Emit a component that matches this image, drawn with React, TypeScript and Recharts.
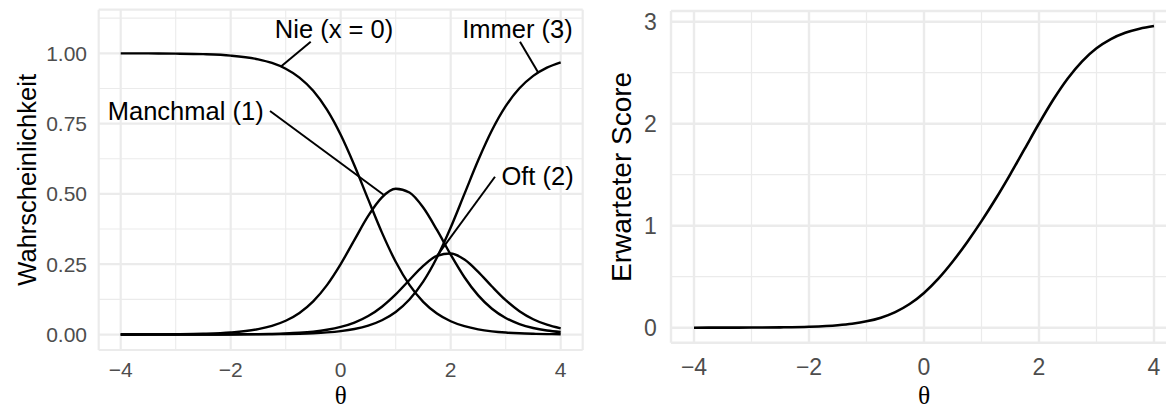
import React from 'react';
import { LineChart, Line, XAxis, YAxis, CartesianGrid, ReferenceLine, ReferenceDot } from 'recharts';

// θ grid
const theta = [-4, -3.5, -3, -2.5, -2, -1.5, -1.25, -1, -0.75, -0.5, -0.25, 0, 0.25, 0.5, 0.75, 1, 1.25, 1.5, 1.75, 2, 2.25, 2.5, 2.75, 3, 3.25, 3.5, 3.75, 4];

// category probabilities
const pNie = [0.9998, 0.9996, 0.9988, 0.9969, 0.9918, 0.9786, 0.9656, 0.9452, 0.9137, 0.8667, 0.7997, 0.7103, 0.601, 0.4805, 0.3623, 0.2587, 0.1765, 0.1163, 0.0748, 0.0473, 0.0296, 0.0184, 0.0114, 0.007, 0.0043, 0.0027, 0.0016, 0.001];
const pManchmal = [0.0002, 0.0004, 0.0011, 0.0028, 0.0074, 0.0192, 0.0309, 0.0491, 0.0769, 0.1181, 0.1758, 0.2505, 0.3366, 0.4218, 0.4878, 0.5182, 0.5049, 0.4515, 0.3718, 0.2841, 0.2038, 0.1391, 0.0916, 0.0589, 0.0372, 0.0233, 0.0144, 0.0089];
const pOft = [0, 0, 0.0001, 0.0002, 0.0006, 0.0015, 0.0025, 0.004, 0.0065, 0.0105, 0.0169, 0.027, 0.0425, 0.0658, 0.099, 0.1427, 0.194, 0.2441, 0.2795, 0.2881, 0.2667, 0.223, 0.1709, 0.1222, 0.083, 0.0544, 0.0349, 0.022];
const pImmer = [0, 0, 0, 0.0001, 0.0003, 0.0007, 0.0011, 0.0018, 0.0029, 0.0047, 0.0076, 0.0123, 0.0198, 0.0319, 0.0509, 0.0804, 0.1246, 0.1881, 0.2739, 0.3805, 0.5, 0.6195, 0.7261, 0.8119, 0.8755, 0.9197, 0.9491, 0.9681];

// expected score
const expectedScore = [0.0002, 0.0005, 0.0013, 0.0035, 0.0093, 0.0243, 0.0391, 0.0624, 0.0986, 0.1532, 0.2324, 0.3412, 0.4812, 0.6491, 0.8385, 1.0447, 1.2666, 1.5039, 1.7525, 2.0018, 2.2371, 2.4436, 2.6118, 2.739, 2.8296, 2.8911, 2.9314, 2.9572];

// ticks
const xTicks = [-4, -2, 0, 2, 4];
const xMinor = [-3, -1, 1, 3];
const probTicks = [0, 0.25, 0.5, 0.75, 1];
const probMinor = [0.125, 0.375, 0.625, 0.875, 1.125];
const scoreTicks = [0, 1, 2, 3];
const scoreMinor = [0.5, 1.5, 2.5];

// curve labels (text, anchor in data coords, connector segment in data coords)
const categoryLabels = ['Nie (x = 0)', 'Manchmal (1)', 'Oft (2)', 'Immer (3)'];
const labelAnchors = [
  { x: -0.122, y: 1.085 },
  { x: -2.818, y: 0.7955 },
  { x: 3.58, y: 0.564 },
  { x: 3.215, y: 1.085 },
];
const labelSegments = [
  [{ x: -0.545, y: 1.041 }, { x: -1.091, y: 0.952 }],
  [{ x: -1.285, y: 0.795 }, { x: 0.78, y: 0.497 }],
  [{ x: 2.805, y: 0.561 }, { x: 1.745, y: 0.278 }],
  [{ x: 3.26, y: 1.041 }, { x: 3.593, y: 0.931 }],
];

const probData = theta.map((t, i) => ({
  theta: t,
  nie: pNie[i],
  manchmal: pManchmal[i],
  oft: pOft[i],
  immer: pImmer[i],
}));
const scoreData = theta.map((t, i) => ({ theta: t, score: expectedScore[i] }));

const FONT = "'Liberation Sans', Arial, Helvetica, sans-serif";
const GRID = '#EBEBEB';
const TICK_LEFT = { fill: '#4D4D4D', fontSize: 21, fontFamily: FONT };
const TICK_RIGHT = { fill: '#4D4D4D', fontSize: 23, fontFamily: FONT };

const fmtX = (v: number) => (v < 0 ? '\u2212' + Math.abs(v) : String(v));

const makeXTitle = (size: number) => (props: any) => {
  const vb = props.viewBox || {};
  const cx = vb.x + vb.width / 2;
  const by = vb.y + vb.height - 6.5;
  return (
    <text x={cx} y={by} textAnchor="middle" fontSize={size} fill="#000" fontFamily="'Liberation Serif', 'DejaVu Serif', serif">
      θ
    </text>
  );
};

const makeYTitle = (label: string, baseX: number, size: number) => (props: any) => {
  const vb = props.viewBox || {};
  const cy = vb.y + vb.height / 2;
  const x = vb.x + baseX;
  return (
    <text
      x={x}
      y={cy}
      transform={`rotate(-90, ${x}, ${cy})`}
      textAnchor="middle"
      fontSize={size}
      fill="#000"
      fontFamily={FONT}
    >
      {label}
    </text>
  );
};

const lineProps = {
  type: 'monotone' as const,
  stroke: '#000',
  dot: false,
  activeDot: false,
  isAnimationActive: false,
};

export default function App() {
  return (
    <div
      style={{
        position: 'absolute',
        left: 0,
        top: 0,
        width: 1166,
        height: 410,
        overflow: 'hidden',
        background: '#fff',
        fontFamily: FONT,
      }}
    >
      <div style={{ position: 'absolute', left: 0, top: 0 }}>
        <LineChart width={600} height={410} data={probData} margin={{ top: 9.7, right: 17.3, bottom: 0, left: 0 }}>
          <CartesianGrid stroke={GRID} strokeWidth={1.1} horizontalValues={probMinor} verticalValues={xMinor} />
          <CartesianGrid stroke={GRID} strokeWidth={2.2} />
          <XAxis
            dataKey="theta"
            type="number"
            domain={[-4.4, 4.4]}
            ticks={xTicks}
            tickFormatter={fmtX}
            axisLine={false}
            tickLine={false}
            tickSize={0}
            tickMargin={11.7}
            height={60}
            tick={TICK_LEFT}
            label={{ content: makeXTitle(25) }}
          />
          <YAxis
            type="number"
            domain={[-0.055, 1.155]}
            ticks={probTicks}
            tickFormatter={(v: number) => v.toFixed(2)}
            axisLine={false}
            tickLine={false}
            tickSize={0}
            tickMargin={11.7}
            width={98.7}
            tick={TICK_LEFT}
            label={{ content: makeYTitle('Wahrscheinlichkeit', 36, 25.5) }}
          />
          <Line dataKey="nie" strokeWidth={2.4} {...lineProps} />
          <Line dataKey="manchmal" strokeWidth={2.4} {...lineProps} />
          <Line dataKey="oft" strokeWidth={2.4} {...lineProps} />
          <Line dataKey="immer" strokeWidth={2.4} {...lineProps} />
          {labelSegments.map((seg, i) => (
            <ReferenceLine key={'s' + i} segment={seg} stroke="#000" strokeWidth={2} ifOverflow="visible" />
          ))}
          {labelAnchors.map((a, i) => (
            <ReferenceDot
              key={'d' + i}
              x={a.x}
              y={a.y}
              r={0}
              fill="none"
              stroke="none"
              ifOverflow="visible"
              label={{ value: categoryLabels[i], position: 'center', fill: '#000', fontSize: 25.5, fontFamily: FONT }}
            />
          ))}
        </LineChart>
      </div>
      <div style={{ position: 'absolute', left: 600, top: 0 }}>
        <LineChart width={600} height={410} data={scoreData} margin={{ top: 11, right: 23, bottom: 0, left: 0 }}>
          <CartesianGrid stroke={GRID} strokeWidth={1.2} horizontalValues={scoreMinor} verticalValues={xMinor} />
          <CartesianGrid stroke={GRID} strokeWidth={2.4} />
          <XAxis
            dataKey="theta"
            type="number"
            domain={[-4.4, 4.4]}
            ticks={xTicks}
            tickFormatter={fmtX}
            axisLine={false}
            tickLine={false}
            tickSize={0}
            tickMargin={16}
            height={67.2}
            tick={TICK_RIGHT}
            label={{ content: makeXTitle(25.5) }}
          />
          <YAxis
            type="number"
            domain={[-0.148, 3.105]}
            ticks={scoreTicks}
            tickFormatter={(v: number) => String(v)}
            axisLine={false}
            tickLine={false}
            tickSize={0}
            tickMargin={14.3}
            width={71}
            tick={TICK_RIGHT}
            label={{ content: makeYTitle('Erwarteter Score', 31.5, 28) }}
          />
          <Line dataKey="score" strokeWidth={2.6} {...lineProps} />
        </LineChart>
      </div>
    </div>
  );
}
